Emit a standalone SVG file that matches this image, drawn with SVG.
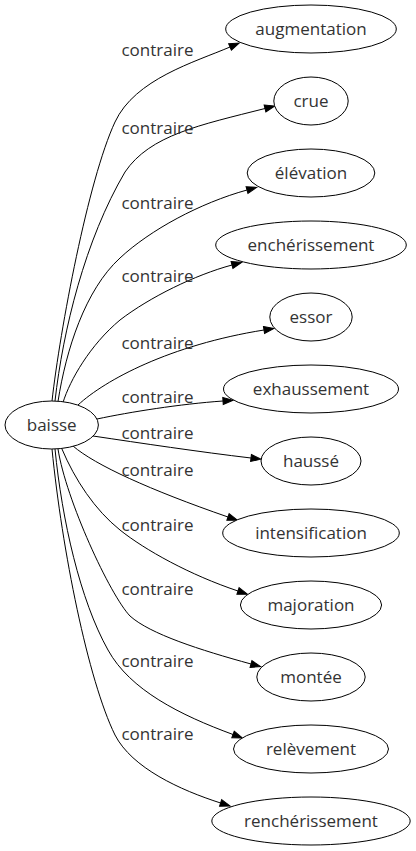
<svg xmlns="http://www.w3.org/2000/svg" width="416" height="851" viewBox="0 0 416 851">
<defs>
<marker id="arr" markerUnits="userSpaceOnUse" viewBox="0 0 10 8" markerWidth="10" markerHeight="8" refX="0" refY="4" orient="auto" overflow="visible"><path d="M0,0.5 L10,4 L0,7.5 Z" fill="#000" stroke="#000" stroke-width="1"/></marker>
</defs>
<style>
.n ellipse{fill:#fff;stroke:#000;stroke-width:1}
text{font-family:"Open Sans","Liberation Sans",sans-serif;font-size:17px;fill:#333;text-anchor:middle}
.e path{fill:none;stroke:#000;stroke-width:1;marker-end:url(#arr)}
</style>
<rect width="416" height="851" fill="#fff"/>
<g id="connectors">
<g class="e" id="e-augmentation"><path d="M52,401 C60,330 88,180 115,122 C135,79 195,62 230,47"/><text x="157.5" y="56">contraire</text></g>
<g class="e" id="e-crue"><path d="M55,401 C63,330 85,240 125,172 C150,135 200,125 265,108.5"/><text x="157.5" y="133.5">contraire</text></g>
<g class="e" id="e-elevation"><path d="M58,401.5 C66,350 85,290 120,258 C150,230 200,203 247,190"/><text x="157.5" y="209">contraire</text></g>
<g class="e" id="e-encherissement"><path d="M63,402.5 C70,380 90,345 120,320 C150,297 195,275 232,265"/><text x="157.5" y="282">contraire</text></g>
<g class="e" id="e-essor"><path d="M78,405 C105,380 170,345 264,330"/><text x="157.5" y="349">contraire</text></g>
<g class="e" id="e-exhaussement"><path d="M97,419 C130,412 180,404 223,401"/><text x="157.5" y="403">contraire</text></g>
<g class="e" id="e-hausse"><path d="M93,436 C140,443 200,452 251,458"/><text x="157.5" y="438.5">contraire</text></g>
<g class="e" id="e-intensification"><path d="M73,446 C95,465 150,490 228,517"/><text x="157.5" y="476">contraire</text></g>
<g class="e" id="e-majoration"><path d="M61.7,448.4 C75,480 95,510 120,530 C145,550 190,575 238,591"/><text x="157.5" y="531">contraire</text></g>
<g class="e" id="e-montee"><path d="M58,449 C66,500 110,595 130,616 C150,634 200,650 251,664"/><text x="157.5" y="595">contraire</text></g>
<g class="e" id="e-relevement"><path d="M55,449 C62,520 80,600 108,650 C130,690 180,715 233,734.5"/><text x="157.5" y="667">contraire</text></g>
<g class="e" id="e-rencherissement"><path d="M52,449 C62,550 88,680 115,735 C132,768 180,790 220.6,803"/><text x="157.5" y="740">contraire</text></g>
</g>
<g class="n" id="n-baisse"><ellipse cx="51.7" cy="425" rx="46.7" ry="24"/><text x="51.7" y="430.5">baisse</text></g>
<g class="n" id="n-augmentation"><ellipse cx="311" cy="29" rx="85.3" ry="24"/><text x="311" y="34.5">augmentation</text></g>
<g class="n" id="n-crue"><ellipse cx="311" cy="101" rx="37.2" ry="24"/><text x="311" y="106.5">crue</text></g>
<g class="n" id="n-elevation"><ellipse cx="311" cy="173" rx="63.8" ry="24"/><text x="311" y="178.5">élévation</text></g>
<g class="n" id="n-encherissement"><ellipse cx="311" cy="245" rx="95.3" ry="24"/><text x="311" y="250.5">enchérissement</text></g>
<g class="n" id="n-essor"><ellipse cx="311" cy="317" rx="41.2" ry="24"/><text x="311" y="322.5">essor</text></g>
<g class="n" id="n-exhaussement"><ellipse cx="311" cy="389" rx="87.5" ry="24"/><text x="311" y="394.5">exhaussement</text></g>
<g class="n" id="n-hausse"><ellipse cx="311" cy="461" rx="50" ry="24"/><text x="311" y="466.5">haussé</text></g>
<g class="n" id="n-intensification"><ellipse cx="311" cy="533" rx="88.3" ry="24"/><text x="311" y="538.5">intensification</text></g>
<g class="n" id="n-majoration"><ellipse cx="311" cy="605" rx="70.6" ry="24"/><text x="311" y="610.5">majoration</text></g>
<g class="n" id="n-montee"><ellipse cx="311" cy="677" rx="54.2" ry="24"/><text x="311" y="682.5">montée</text></g>
<g class="n" id="n-relevement"><ellipse cx="311" cy="749" rx="77.5" ry="24"/><text x="311" y="754.5">relèvement</text></g>
<g class="n" id="n-rencherissement"><ellipse cx="311" cy="821" rx="99.2" ry="24"/><text x="311" y="826.5">renchérissement</text></g>
</svg>
